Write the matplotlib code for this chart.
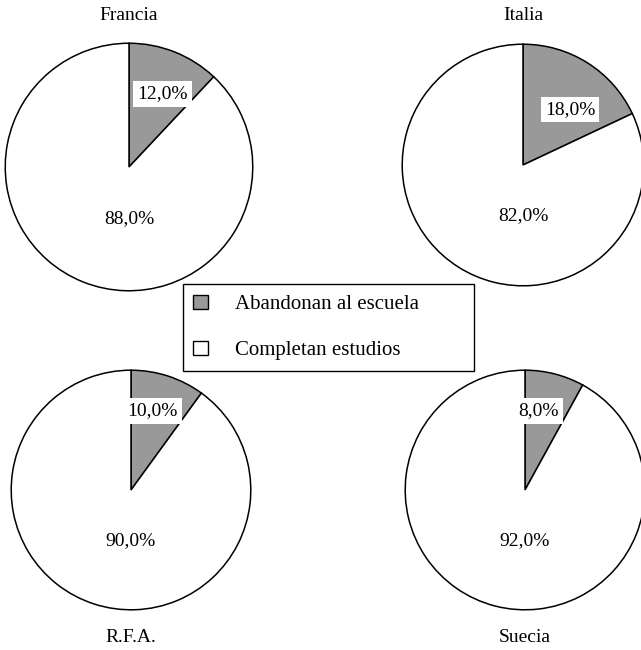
import matplotlib.pyplot as plt
from matplotlib.patches import Patch

paises = ['Francia', 'Italia', 'R.F.A.', 'Suecia']
abandonan = [12.0, 18.0, 10.0, 8.0]
completan = [88.0, 82.0, 90.0, 92.0]
categorias = ['Abandonan al escuela', 'Completan estudios']

plt.rcParams['font.family'] = ['Liberation Serif', 'DejaVu Serif']

W, H = 641, 650
fig = plt.figure(figsize=(W / 100, H / 100), dpi=100)

# pixel centres / radius of each pie, title pixel y
layout = [
    (129, 167, 125, 16),
    (523, 165, 122, 16),
    (131, 490, 121, 638),
    (525, 490, 121, 638),
]
# label anchors (in pie radius units) for the gray slice
pos_gris = [(0.27, 0.59), (0.39, 0.46), (0.18, 0.66), (0.11, 0.66)]

gris = '#999999'
for i, pais in enumerate(paises):
    cx, cy, r, ty = layout[i]
    ax = fig.add_axes([(cx - r) / W, (H - cy - r) / H, 2 * r / W, 2 * r / H])
    ax.pie([abandonan[i], completan[i]], colors=[gris, 'white'],
           startangle=90, counterclock=False, radius=1,
           wedgeprops=dict(edgecolor='black', linewidth=1.1))
    ax.set_xlim(-1.01, 1.01)
    ax.set_ylim(-1.01, 1.01)
    ax.set_aspect('auto')
    ax.axis('off')
    bx, by = pos_gris[i]
    ax.text(bx, by, f'{abandonan[i]:.1f}%'.replace('.', ','), ha='center', va='center',
            fontsize=14, bbox=dict(facecolor='white', edgecolor='none', pad=3))
    ax.text(0, -0.42, f'{completan[i]:.1f}%'.replace('.', ','), ha='center', va='center',
            fontsize=14)
    fig.text(cx / W, 1 - ty / H, pais, ha='center', va='center', fontsize=14)

handles = [Patch(facecolor=gris, edgecolor='black'), Patch(facecolor='white', edgecolor='black')]
leg = fig.legend(handles, categorias, loc='center',
                 bbox_to_anchor=(183 / W, 1 - 371 / H, 291 / W, 87 / H), mode='expand',
                 borderaxespad=0, fontsize=15, fancybox=False, edgecolor='black',
                 framealpha=1, handlelength=0.7, handleheight=0.7, handletextpad=1.3,
                 labelspacing=1.25, borderpad=0.5)
leg.get_frame().set_linewidth(1.0)

fig.savefig('out.png', dpi=100)
